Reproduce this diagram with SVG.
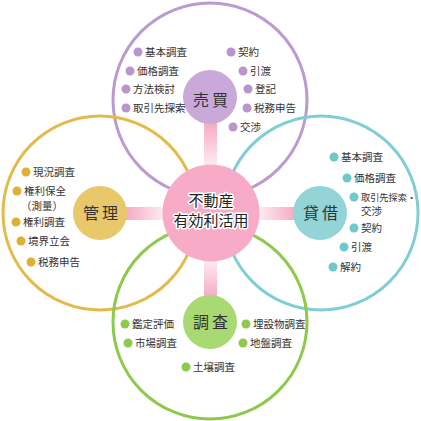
<svg xmlns="http://www.w3.org/2000/svg" width="421" height="421" viewBox="0 0 421 421">
<style>
.ring{fill:none;stroke-width:3}
.it{font-family:"Noto Sans CJK JP","Noto Sans CJK SC",sans-serif;font-size:10.5px;fill:#333}
.sat{font-family:"Noto Sans CJK JP","Noto Sans CJK SC",sans-serif;font-size:16px;fill:#333;letter-spacing:3px}
.hub{font-family:"Noto Sans CJK JP","Noto Sans CJK SC",sans-serif;font-size:15px;fill:#222;stroke:#fff;stroke-width:3;paint-order:stroke;stroke-linejoin:round}
.pu{fill:#b995cc}.ye{fill:#e0b036}.te{fill:#6fc8ca}.gr{fill:#8ecb4c}
</style>
<defs>
<linearGradient id="gv" x1="0" y1="0" x2="0" y2="1"><stop offset="0" stop-color="#f5a9c1"/><stop offset="1" stop-color="#fdf0f4"/></linearGradient>
<linearGradient id="gv2" x1="0" y1="1" x2="0" y2="0"><stop offset="0" stop-color="#f5a9c1"/><stop offset="1" stop-color="#fdf0f4"/></linearGradient>
<linearGradient id="gh" x1="0" y1="0" x2="1" y2="0"><stop offset="0" stop-color="#f5a9c1"/><stop offset="1" stop-color="#fdf0f4"/></linearGradient>
<linearGradient id="gh2" x1="1" y1="0" x2="0" y2="0"><stop offset="0" stop-color="#f5a9c1"/><stop offset="1" stop-color="#fdf0f4"/></linearGradient>
</defs>
<g id="rings">
<circle class="ring" cx="210" cy="100" r="97" stroke="#bc9ad0"/>
<circle class="ring" cx="100" cy="213" r="97" stroke="#e3bb4c"/>
<circle class="ring" cx="321" cy="213" r="97" stroke="#80cdd6"/>
<circle class="ring" cx="210" cy="322" r="97" stroke="#8dc94c"/>
</g>
<g id="connectors">
<rect x="204" y="122" width="13" height="46" fill="url(#gv)"/>
<rect x="204" y="258" width="13" height="40" fill="url(#gv2)"/>
<rect x="125" y="207" width="41" height="13" fill="url(#gh)"/>
<rect x="257" y="207" width="39" height="13" fill="url(#gh2)"/>
</g>
<g id="hub">
<circle cx="211" cy="213" r="48.5" fill="#f7abc6"/>
<text class="hub" x="211" y="206" text-anchor="middle">不動産</text>
<text class="hub" x="211" y="226" text-anchor="middle">有効利活用</text>
</g>
<g id="baibai">
<circle cx="210" cy="97" r="27" fill="#c9a9da"/>
<text class="sat" x="212" y="106" text-anchor="middle">売買</text>
<circle class="pu" cx="138" cy="52" r="4.5"/><text class="it" x="145" y="56">基本調査</text>
<circle class="pu" cx="130" cy="71" r="4.5"/><text class="it" x="137" y="75">価格調査</text>
<circle class="pu" cx="126" cy="89" r="4.5"/><text class="it" x="133" y="93">方法検討</text>
<circle class="pu" cx="126" cy="108" r="4.5"/><text class="it" x="133" y="112">取引先探索</text>
<circle class="pu" cx="231" cy="52" r="4.5"/><text class="it" x="238" y="56">契約</text>
<circle class="pu" cx="243" cy="71" r="4.5"/><text class="it" x="250" y="75">引渡</text>
<circle class="pu" cx="248" cy="89" r="4.5"/><text class="it" x="255" y="93">登記</text>
<circle class="pu" cx="247" cy="108" r="4.5"/><text class="it" x="254" y="112">税務申告</text>
<circle class="pu" cx="233" cy="127" r="4.5"/><text class="it" x="240" y="131">交渉</text>
</g>
<g id="kanri">
<circle cx="100" cy="213" r="27" fill="#e8c86a"/>
<text class="sat" x="102" y="219" text-anchor="middle">管理</text>
<circle class="ye" cx="26" cy="172" r="4.5"/><text class="it" x="33" y="176">現況調査</text>
<circle class="ye" cx="17" cy="191" r="4.5"/><text class="it" x="24" y="195">権利保全</text>
<text class="it" x="21" y="210">（測量）</text>
<circle class="ye" cx="16" cy="222" r="4.5"/><text class="it" x="23" y="226">権利調査</text>
<circle class="ye" cx="21" cy="241" r="4.5"/><text class="it" x="28" y="245">境界立会</text>
<circle class="ye" cx="31" cy="262" r="4.5"/><text class="it" x="38" y="266">税務申告</text>
</g>
<g id="taishaku">
<circle cx="320" cy="213" r="27" fill="#93d4d7"/>
<text class="sat" x="322" y="219" text-anchor="middle">貸借</text>
<circle class="te" cx="334" cy="157" r="4.5"/><text class="it" x="341" y="161">基本調査</text>
<circle class="te" cx="347" cy="178" r="4.5"/><text class="it" x="354" y="182">価格調査</text>
<circle class="te" cx="354" cy="197" r="4.5"/><text class="it" x="361" y="201" style="font-size:9.2px">取引先探索・</text>
<text class="it" x="361" y="215">交渉</text>
<circle class="te" cx="354" cy="228" r="4.5"/><text class="it" x="361" y="232">契約</text>
<circle class="te" cx="344" cy="247" r="4.5"/><text class="it" x="351" y="251">引渡</text>
<circle class="te" cx="333" cy="267" r="4.5"/><text class="it" x="340" y="271">解約</text>
</g>
<g id="chousa">
<circle cx="210" cy="322" r="27" fill="#a9d972"/>
<text class="sat" x="212" y="328" text-anchor="middle">調査</text>
<circle class="gr" cx="125" cy="324" r="4.5"/><text class="it" x="132" y="328">鑑定評価</text>
<circle class="gr" cx="128" cy="343" r="4.5"/><text class="it" x="135" y="347">市場調査</text>
<circle class="gr" cx="186" cy="367" r="4.5"/><text class="it" x="193" y="371">土壌調査</text>
<circle class="gr" cx="246" cy="324" r="4.5"/><text class="it" x="253" y="328">埋設物調査</text>
<circle class="gr" cx="243" cy="343" r="4.5"/><text class="it" x="250" y="347">地盤調査</text>
</g>
</svg>
